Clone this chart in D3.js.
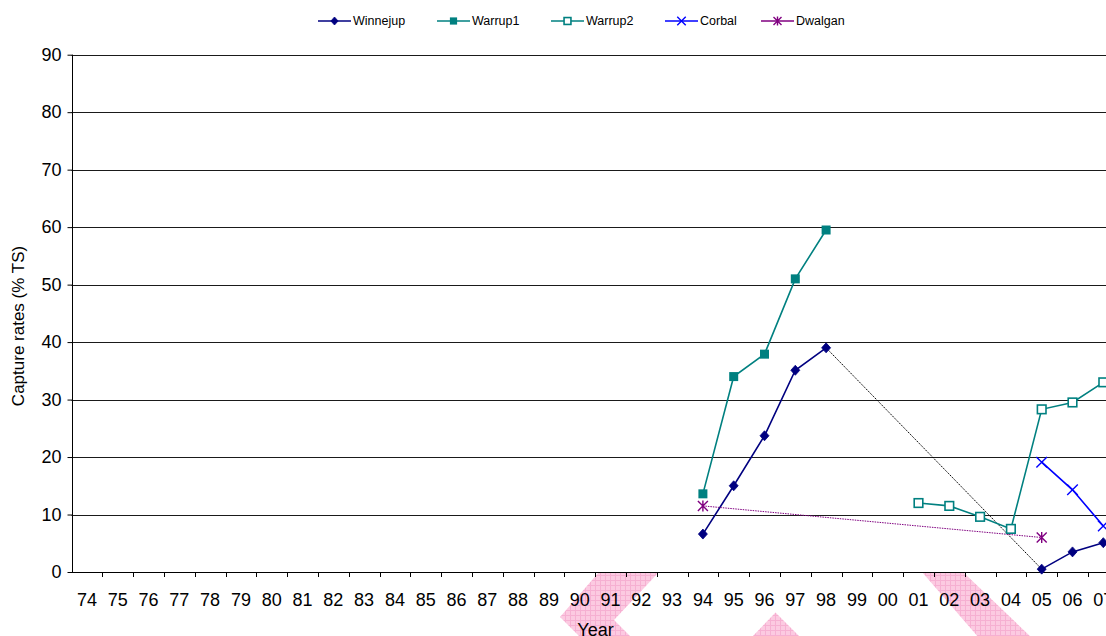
<!DOCTYPE html>
<html>
<head>
<meta charset="utf-8">
<script src="https://cdn.jsdelivr.net/npm/d3@7"></script>
<style>
  body { margin: 0; background: #fff; }
  svg { display: block; font-family: Arial, "Liberation Sans", sans-serif; }
</style>
</head>
<body>
<svg id="chart" width="1106" height="636"></svg>
<script>
// Survey years (two-digit labels, 1974 onwards)
const years = ["74","75","76","77","78","79","80","81","82","83","84","85","86","87","88","89",
               "90","91","92","93","94","95","96","97","98","99","00","01","02","03","04","05","06","07"];
const yTicks = [0, 10, 20, 30, 40, 50, 60, 70, 80, 90];

// Capture rates (% TS) per site
const winnejupYears  = ["94","95","96","97","98","05","06","07"];
const winnejupValues = [6.6, 15.0, 23.7, 35.1, 39.0, 0.5, 3.5, 5.1];

const warrup1Years  = ["94","95","96","97","98"];
const warrup1Values = [13.6, 34.0, 37.9, 51.0, 59.5];

const warrup2Years  = ["01","02","03","04","05","06","07"];
const warrup2Values = [12.0, 11.5, 9.6, 7.5, 28.3, 29.5, 33.0];

const corbalYears  = ["05","06","07"];
const corbalValues = [19.1, 14.3, 8.0];

const dwalganYears  = ["94","05"];
const dwalganValues = [11.5, 6.0];

const series = [
  { name: "Winnejup", years: winnejupYears, values: winnejupValues, color: "#000080", marker: "diamond", bridge: "#000000" },
  { name: "Warrup1",  years: warrup1Years,  values: warrup1Values,  color: "#008080", marker: "square" },
  { name: "Warrup2",  years: warrup2Years,  values: warrup2Values,  color: "#008080", marker: "openSquare" },
  { name: "Corbal",   years: corbalYears,   values: corbalValues,   color: "#0000FF", marker: "cross" },
  { name: "Dwalgan",  years: dwalganYears,  values: dwalganValues,  color: "#800080", marker: "star", bridge: "#800080" }
];

const svg = d3.select("#chart");
const plotLeft = 71.5, plotTop = 54.7, plotBottom = 572;
const step = 30.8;

const x = d3.scaleBand().domain(years).range([plotLeft, plotLeft + years.length * step]).padding(0);
const cx = d => x(d) + x.bandwidth() / 2;
const y = d3.scaleLinear().domain([0, 90]).range([plotBottom, plotTop]);
const plotRight = plotLeft + years.length * step;

// Hatched pink background stamp (sits behind the plot area)
const defs = svg.append("defs");
const pat = defs.append("pattern").attr("id", "pinkHatch")
  .attr("patternUnits", "userSpaceOnUse").attr("width", 5).attr("height", 5);
pat.append("rect").attr("width", 5).attr("height", 5).attr("fill", "#fccae1");
pat.append("path").attr("d", "M0 0.5H5M0.5 0V5").attr("stroke", "#f6b0d2").attr("stroke-width", 1);

const stamp = svg.append("g").attr("fill", "url(#pinkHatch)");
[
  [[599,572],[659,572],[614,620],[632,638],[581,638],[560,617]],
  [[751,638],[775.5,612.5],[801,638]],
  [[922,572],[963,572],[1032,638],[979,638]]
].forEach(p => stamp.append("polygon").attr("points", p.map(q => q.join(",")).join(" ")));

// Plot area
svg.append("rect").attr("x", plotLeft).attr("y", plotTop)
  .attr("width", plotRight - plotLeft).attr("height", plotBottom - plotTop).attr("fill", "#fff");

// Horizontal gridlines
svg.append("g").selectAll("line").data(yTicks.filter(t => t > 0)).join("line")
  .attr("x1", plotLeft).attr("x2", plotRight)
  .attr("y1", d => Math.round(y(d)) + 0.5).attr("y2", d => Math.round(y(d)) + 0.5)
  .attr("stroke", "#1a1a1a").attr("stroke-width", 1);

// Y axis
const yAxis = svg.append("g").attr("transform", `translate(${Math.round(plotLeft) + 0.5},0)`)
  .call(d3.axisLeft(y).tickValues(yTicks).tickSize(5).tickPadding(6).tickFormat(d3.format("d")));
yAxis.select(".domain").attr("stroke", "#000").attr("d", `M0,${plotTop}V${plotBottom}`);
yAxis.selectAll(".tick line").attr("stroke", "#000");
yAxis.selectAll(".tick text").attr("font-size", 18).attr("fill", "#000")
  .attr("font-family", "Arial, 'Liberation Sans', sans-serif");

// X axis: ticks on category boundaries, labels centred in each category
const xg = svg.append("g");
xg.append("line").attr("x1", plotLeft).attr("x2", plotRight)
  .attr("y1", Math.round(plotBottom) + 0.5).attr("y2", Math.round(plotBottom) + 0.5)
  .attr("stroke", "#000");
xg.selectAll("line.tk").data(years.slice(1)).join("line").attr("class", "tk")
  .attr("x1", d => Math.round(x(d)) + 0.5).attr("x2", d => Math.round(x(d)) + 0.5)
  .attr("y1", plotBottom).attr("y2", plotBottom + 5).attr("stroke", "#000");
xg.selectAll("text").data(years).join("text")
  .attr("x", d => cx(d)).attr("y", 605.5).attr("text-anchor", "middle")
  .attr("font-size", 18).attr("fill", "#000").text(d => d);

// Axis titles
svg.append("text").attr("transform", "translate(24,326) rotate(-90)")
  .attr("text-anchor", "middle").attr("font-size", 17).attr("fill", "#000")
  .text("Capture rates (% TS)");
svg.append("text").attr("x", 595.5).attr("y", 636).attr("text-anchor", "middle")
  .attr("font-size", 18).attr("fill", "#000").text("Year");

// Marker shapes
function drawMarker(g, type, color, px, py, s) {
  const k = s || 1;
  if (type === "diamond") {
    const r = 5 * k;
    g.append("path").attr("d", `M${px},${py - r}L${px + r * 0.9},${py}L${px},${py + r}L${px - r * 0.9},${py}Z`)
      .attr("fill", color).attr("stroke", color).attr("stroke-width", 0.8);
  } else if (type === "square") {
    const r = 4.5 * k;
    g.append("rect").attr("x", px - r).attr("y", py - r).attr("width", 2 * r).attr("height", 2 * r)
      .attr("fill", color);
  } else if (type === "openSquare") {
    const r = 4.3 * k;
    g.append("rect").attr("x", px - r).attr("y", py - r).attr("width", 2 * r).attr("height", 2 * r)
      .attr("fill", "#fff").attr("stroke", color).attr("stroke-width", 1.6);
  } else if (type === "cross") {
    const r = 5.3 * k;
    g.append("path").attr("d", `M${px - r},${py - r}L${px + r},${py + r}M${px - r},${py + r}L${px + r},${py - r}`)
      .attr("stroke", color).attr("stroke-width", 1.4).attr("fill", "none");
  } else if (type === "star") {
    const r = 5 * k;
    g.append("path").attr("d",
      `M${px - r},${py - r}L${px + r},${py + r}M${px - r},${py + r}L${px + r},${py - r}M${px},${py - r * 1.1}V${py + r * 1.1}`)
      .attr("stroke", color).attr("stroke-width", 1.4).attr("fill", "none");
  }
}

// Series lines: consecutive years joined solid, gaps bridged with a dotted line
const line = d3.line().x(d => cx(d.year)).y(d => y(d.value));
const marks = svg.append("g");
series.forEach(s => {
  const pts = s.years.map((yr, i) => ({ year: yr, value: s.values[i] }));
  const segs = [];
  let cur = [pts[0]];
  for (let i = 1; i < pts.length; i++) {
    const gap = years.indexOf(pts[i].year) - years.indexOf(pts[i - 1].year) > 1;
    if (gap) {
      segs.push(cur);
      if (s.bridge) {
        marks.append("path").attr("d", line([pts[i - 1], pts[i]])).attr("fill", "none")
          .attr("stroke", s.bridge).attr("stroke-width", 1).attr("stroke-dasharray", "1.5,1");
      }
      cur = [pts[i]];
    } else cur.push(pts[i]);
  }
  segs.push(cur);
  segs.filter(sg => sg.length > 1).forEach(sg => {
    marks.append("path").attr("d", line(sg)).attr("fill", "none")
      .attr("stroke", s.color).attr("stroke-width", 1.6);
  });
  s.pts = pts;
});
series.forEach(s => {
  const g = marks.append("g");
  s.pts.forEach(p => drawMarker(g, s.marker, s.color, cx(p.year), y(p.value)));
});

// Legend
const legendX = [318, 437, 551, 665, 761];
const legend = svg.append("g");
series.forEach((s, i) => {
  const lx = legendX[i], ly = 21;
  legend.append("line").attr("x1", lx).attr("x2", lx + 33).attr("y1", ly).attr("y2", ly)
    .attr("stroke", s.color).attr("stroke-width", 1.6);
  drawMarker(legend, s.marker, s.color, lx + 16.5, ly, 0.8);
  legend.append("text").attr("x", lx + 35).attr("y", ly + 4.3).attr("font-size", 12.5)
    .attr("fill", "#000").text(s.name);
});
</script>
</body>
</html>
